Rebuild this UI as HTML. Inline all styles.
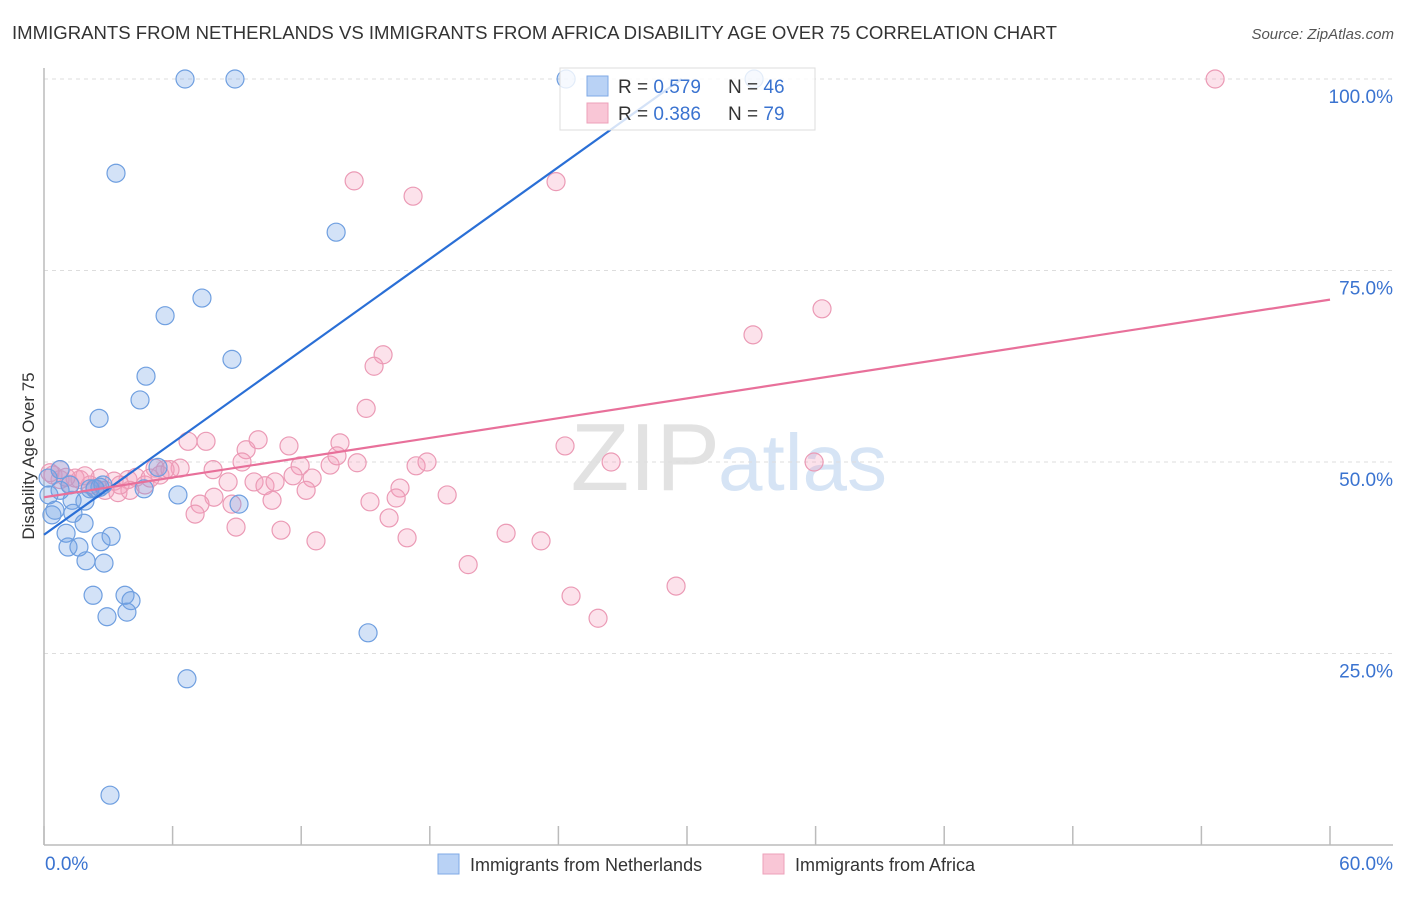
<!DOCTYPE html>
<html><head><meta charset="utf-8"><style>
body{margin:0;background:#fff;font-family:"Liberation Sans",sans-serif;}
svg text{font-family:"Liberation Sans",sans-serif;}
</style></head><body>
<svg id="c" width="1406" height="892">
<text x="12" y="39" font-size="18" fill="#333" textLength="1045" lengthAdjust="spacingAndGlyphs">IMMIGRANTS FROM NETHERLANDS VS IMMIGRANTS FROM AFRICA DISABILITY AGE OVER 75 CORRELATION CHART</text>
<text x="1394" y="39" font-size="15" fill="#555" font-style="italic" text-anchor="end">Source: ZipAtlas.com</text>
<text x="720" y="490" font-size="96" fill="#e2e2e2" text-anchor="end" font-family="Liberation Serif">ZIP</text>
<text x="718" y="490" font-size="80" fill="#d6e4f5">atlas</text>
<text transform="translate(34,456) rotate(-90)" font-size="17" fill="#333" text-anchor="middle">Disability Age Over 75</text>
<g id="grid"></g><g id="axes"></g><g id="pts"></g><g id="lines"></g>
<g>
<rect x="560" y="68" width="255" height="62" fill="rgba(255,255,255,0.8)" stroke="#ddd"/>
<rect x="587" y="76" width="21" height="20" fill="#b9d2f5" stroke="#7fa9e6"/>
<rect x="587" y="103" width="21" height="20" fill="#f9c6d6" stroke="#eda0ba"/>
<text x="618" y="93" font-size="19" fill="#333">R = <tspan fill="#3a73d0">0.579</tspan></text>
<text x="728" y="93" font-size="19" fill="#333">N = <tspan fill="#3a73d0">46</tspan></text>
<text x="618" y="120" font-size="19" fill="#333">R = <tspan fill="#3a73d0">0.386</tspan></text>
<text x="728" y="120" font-size="19" fill="#333">N = <tspan fill="#3a73d0">79</tspan></text>
</g>
<g>
<rect x="438" y="854" width="21" height="20" fill="#b9d2f5" stroke="#7fa9e6"/>
<text x="470" y="871" font-size="18" fill="#333">Immigrants from Netherlands</text>
<rect x="763" y="854" width="21" height="20" fill="#f9c6d6" stroke="#eda0ba"/>
<text x="795" y="871" font-size="18" fill="#333">Immigrants from Africa</text>
</g>
</svg>
<script>
const blueX=[6.58,8.91,24.36,33.13,3.36,13.63,7.37,5.65,8.77,4.76,4.48,2.57,9.10,6.25,4.67,5.32,0.23,0.37,0.51,0.75,1.31,1.91,2.15,2.61,1.35,1.87,1.03,1.12,1.63,2.66,3.13,1.96,2.80,2.29,3.78,4.06,2.94,3.87,15.12,6.67,3.08,0.19,0.75,2.38,2.75,1.21];
const blueY=[100,100,100,100,87.7,80.0,71.4,69.1,63.4,61.2,58.1,55.7,44.5,45.7,46.5,49.3,45.7,43.1,43.7,46.3,45.0,44.9,46.5,46.7,43.3,42.0,40.7,38.9,38.9,39.6,40.3,37.1,36.8,32.6,32.6,31.9,29.8,30.4,27.7,21.7,6.5,47.9,49.0,46.5,47.0,47.0];
const pinkX=[54.64,14.47,17.22,23.89,36.30,33.08,15.82,15.40,15.03,6.72,7.56,9.43,9.99,11.43,13.81,24.31,9.24,11.95,13.35,13.67,14.61,17.36,17.87,26.46,35.93,6.35,5.65,5.18,3.92,2.61,3.27,4.29,5.41,7.89,8.59,9.80,10.31,10.78,12.51,12.23,11.62,18.81,16.61,16.43,15.21,10.64,7.93,7.28,7.05,8.96,11.06,12.69,16.10,16.94,21.56,23.19,19.79,24.59,25.85,29.49,0.42,0.75,1.21,1.68,2.15,3.45,4.01,4.71,5.88,0.75,0.28,1.45,1.91,8.77,2.38,4.95,3.55,1.03,2.85];
const pinkY=[100,86.7,84.7,86.6,70.0,66.6,64.0,62.5,57.0,52.7,52.7,51.6,52.9,52.1,52.5,52.1,50.0,49.5,49.6,50.8,49.9,49.5,50.0,50.0,50.0,49.2,49.0,49.2,47.7,47.9,47.5,48.0,48.3,49.0,47.4,47.4,46.9,47.4,47.9,46.3,48.2,45.7,46.6,45.3,44.8,45.0,45.4,44.5,43.2,41.5,41.1,39.7,42.7,40.1,40.7,39.7,36.6,32.5,29.6,33.8,48.3,47.7,47.1,47.7,47.0,46.0,46.3,47.0,49.0,49.0,48.6,47.9,48.2,44.5,46.6,47.9,47.0,48.0,46.3];
const blueLine=[40.5,2.0];   // intercept, slope
const pinkLine=[45.4,0.43];
const yTicks=[100,75,50,25];
const yTickLabels=["100.0%","75.0%","50.0%","25.0%"];
const xTicks=[0,6,12,18,24,30,36,42,48,54,60];
const NS='http://www.w3.org/2000/svg';
const X0=44,X1=1330,Y0=845,Ytop=79;
const sx=v=>X0+v/60*(X1-X0);
const sy=v=>Y0-v/100*(Y0-Ytop);
function mk(tag,attrs,parent){const e=document.createElementNS(NS,tag);for(const k in attrs)e.setAttribute(k,attrs[k]);document.getElementById(parent).appendChild(e);return e;}
yTicks.forEach((t,i)=>{
 const g=mk('line',{x1:X0,x2:1393,y1:sy(t),y2:sy(t),stroke:'#ddd','stroke-dasharray':'4,4'},'grid');
 
 
 const l=mk('text',{x:1393,y:sy(t)+24,'font-size':19,fill:'#3a73d0','text-anchor':'end'},'grid');
 l.textContent=yTickLabels[i];
 
 
});
let a=mk('line',{x1:X0,x2:X0,y1:68,y2:Y0,stroke:'#bbb','stroke-width':1.5},'axes');


a=mk('line',{x1:X0,x2:1393,y1:Y0,y2:Y0,stroke:'#bbb','stroke-width':1.5},'axes');


xTicks.forEach(t=>{const k=mk('line',{x1:sx(t),x2:sx(t),y1:Y0-19,y2:Y0,stroke:'#bbb','stroke-width':1.5},'axes');
 
 });
let t=mk('text',{x:45,y:870,'font-size':19,fill:'#3a73d0'},'axes');t.textContent='0.0%';


t=mk('text',{x:1393,y:870,'font-size':19,fill:'#3a73d0','text-anchor':'end'},'axes');t.textContent='60.0%';


pinkX.forEach((x,i)=>{const c=mk('circle',{cx:sx(x),cy:sy(pinkY[i]),r:9,fill:'rgba(244,160,188,0.3)',stroke:'#eb9ab5','stroke-width':1.2},'pts');
 
 });
blueX.forEach((x,i)=>{const c=mk('circle',{cx:sx(x),cy:sy(blueY[i]),r:9,fill:'rgba(110,160,230,0.3)',stroke:'#6f9fe0','stroke-width':1.2},'pts');
 
 });
const bx1=(100-blueLine[0])/blueLine[1];
let ln=mk('line',{x1:sx(0),y1:sy(blueLine[0]),x2:sx(bx1),y2:sy(100),stroke:'#2a6fd6','stroke-width':2.2},'lines');


ln=mk('line',{x1:sx(0),y1:sy(pinkLine[0]),x2:sx(60),y2:sy(pinkLine[0]+60*pinkLine[1]),stroke:'#e8709a','stroke-width':2.2},'lines');


</script>
</body></html>
